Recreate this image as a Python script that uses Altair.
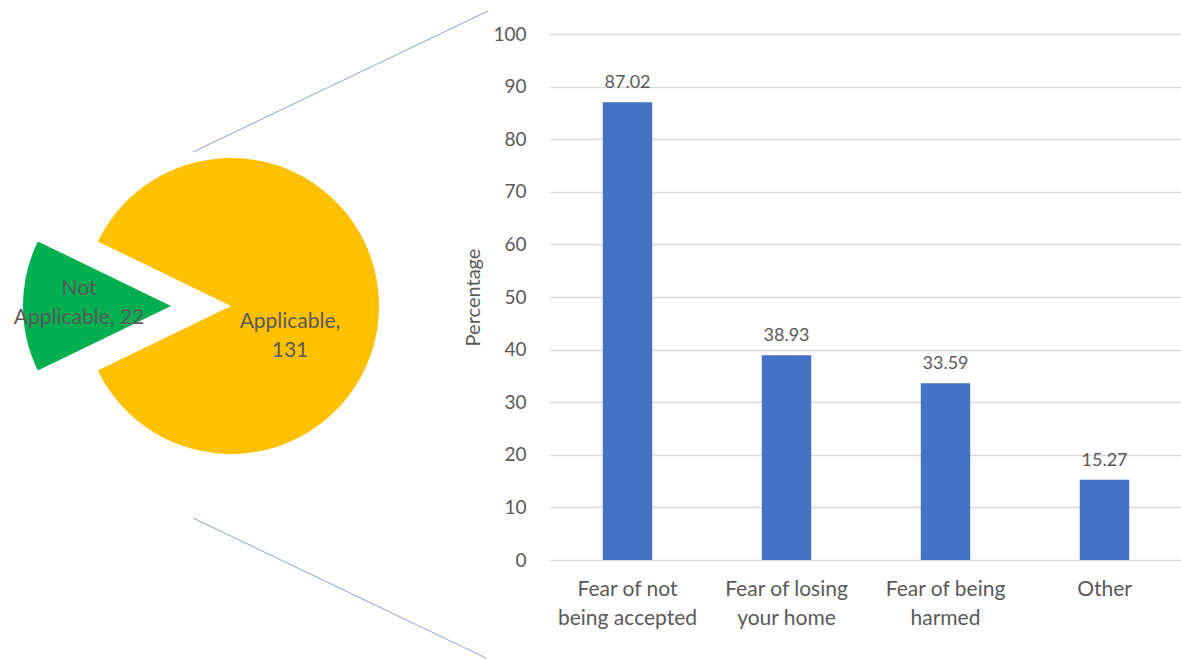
import altair as alt
import pandas as pd
import math

# ---- data ----
pie_names = ["Not Applicable", "Applicable"]
pie_counts = [22, 131]
pie_colors = ["#00B050", "#FFC000"]

bar_categories = ["Fear of not\nbeing accepted", "Fear of losing\nyour home", "Fear of being\nharmed", "Other"]
bar_values = [87.02, 38.93, 33.59, 15.27]
y_ticks = [0, 10, 20, 30, 40, 50, 60, 70, 80, 90, 100]

FONT = "Lato"
GREY = "#595959"

pie_df = pd.DataFrame({"name": pie_names, "value": pie_counts, "idx": list(range(len(pie_names)))})
bar_df = pd.DataFrame({"category": bar_categories, "value": bar_values})

total = sum(pie_counts)
start_angle = math.radians(270) - math.pi * pie_counts[0] / total
theta_scale = alt.Scale(domain=[0, total], range=[start_angle, start_angle + 2 * math.pi])

PIE_R = 148
CX, CY = -317, 272          # pie centre relative to bar plot origin
EXPLODE = 60

pie_base = alt.Chart(pie_df).transform_window(
    cum="sum(value)", sort=[alt.SortField("idx")]
).transform_calculate(start="datum.cum - datum.value")

color_scale = alt.Scale(domain=pie_names, range=pie_colors)

yellow = pie_base.transform_filter(alt.datum.name == "Applicable").mark_arc(radius=PIE_R).encode(
    theta=alt.Theta("start:Q", scale=theta_scale),
    theta2="cum:Q",
    color=alt.Color("name:N", scale=color_scale, legend=None),
    x=alt.value(CX), y=alt.value(CY),
)
green = pie_base.transform_filter(alt.datum.name == "Not Applicable").mark_arc(radius=PIE_R).encode(
    theta=alt.Theta("start:Q", scale=theta_scale),
    theta2="cum:Q",
    color=alt.Color("name:N", scale=color_scale, legend=None),
    x=alt.value(CX - EXPLODE), y=alt.value(CY),
)

yellow_lbl = pie_base.transform_filter(alt.datum.name == "Applicable").transform_calculate(
    lbl="datum.name + ',\\n' + datum.value"
).mark_text(font=FONT, fontSize=21, color=GREY, lineBreak="\n", lineHeight=29, baseline="middle", align="center").encode(
    text="lbl:N", x=alt.value(-258), y=alt.value(288)
)
green_lbl = pie_base.transform_filter(alt.datum.name == "Not Applicable").transform_calculate(
    lbl="split(datum.name, ' ')[0] + '\\n' + split(datum.name, ' ')[1] + ', ' + datum.value"
).mark_text(font=FONT, fontSize=21, color=GREY, lineBreak="\n", lineHeight=29, baseline="middle", align="center").encode(
    text="lbl:N", x=alt.value(-469), y=alt.value(255)
)

conn_top = alt.Chart(pie_df.head(1)).mark_rule(color="#8FA2C2", strokeWidth=1).encode(
    x=alt.value(-355), y=alt.value(118), x2=alt.value(-60), y2=alt.value(-23)
)
conn_bot = alt.Chart(pie_df.head(1)).mark_rule(color="#8FA2C2", strokeWidth=1).encode(
    x=alt.value(-355), y=alt.value(484), x2=alt.value(-62), y2=alt.value(624)
)
# white edge hiding the plot frame's left border
edge = alt.Chart(pie_df.head(1)).mark_rule(color="white", strokeWidth=3).encode(
    x=alt.value(0), y=alt.value(-1), y2=alt.value(527)
)

x_enc = alt.X(
    "category:N", sort=bar_categories,
    scale=alt.Scale(range=[0, 636], paddingInner=0.689, paddingOuter=0.3445),
    axis=alt.Axis(title=None, labelAngle=0, labelExpr="split(datum.label, '\\n')",
                  labelFont=FONT, labelFontSize=21, labelColor=GREY, labelLineHeight=29,
                  labelPadding=18, ticks=False, grid=False, domain=False,
                  labelBaseline="top"),
)
y_enc = alt.Y(
    "value:Q", scale=alt.Scale(domain=[0, 100], nice=False),
    axis=alt.Axis(values=y_ticks, title="Percentage", titleFont=FONT, titleFontSize=20,
                  titleFontWeight="normal", titleColor=GREY, titleX=-75, titleY=263,
                  titleAngle=270, titleBaseline="middle", titleAlign="center",
                  labelFont=FONT, labelFontSize=19, labelColor=GREY, labelPadding=22,
                  ticks=False, domain=False, gridColor="#D9D9D9", gridWidth=1.3),
)

bars = alt.Chart(bar_df).mark_bar(color="#4472C4").encode(x=x_enc, y=y_enc)
bar_lbl = alt.Chart(bar_df).mark_text(font=FONT, fontSize=18, color=GREY, dy=-14, baseline="alphabetic").encode(
    x=alt.X("category:N", sort=bar_categories),
    y=alt.Y("value:Q"),
    text=alt.Text("value:Q", format=".2f"),
)

chart = alt.layer(edge, bars, bar_lbl, conn_top, conn_bot, yellow, green, yellow_lbl, green_lbl).properties(
    width=633, height=526,
    background="white",
    view=alt.ViewBackground(strokeOpacity=0, strokeWidth=0),
    autosize=alt.AutoSizeParams(type="none"),
    padding={"left": 548, "top": 34, "right": 0, "bottom": 99},
).configure_view(strokeOpacity=0, strokeWidth=0).configure_axis(domain=False)

chart.save("out.html", embed_options={"renderer": "svg", "actions": False})
